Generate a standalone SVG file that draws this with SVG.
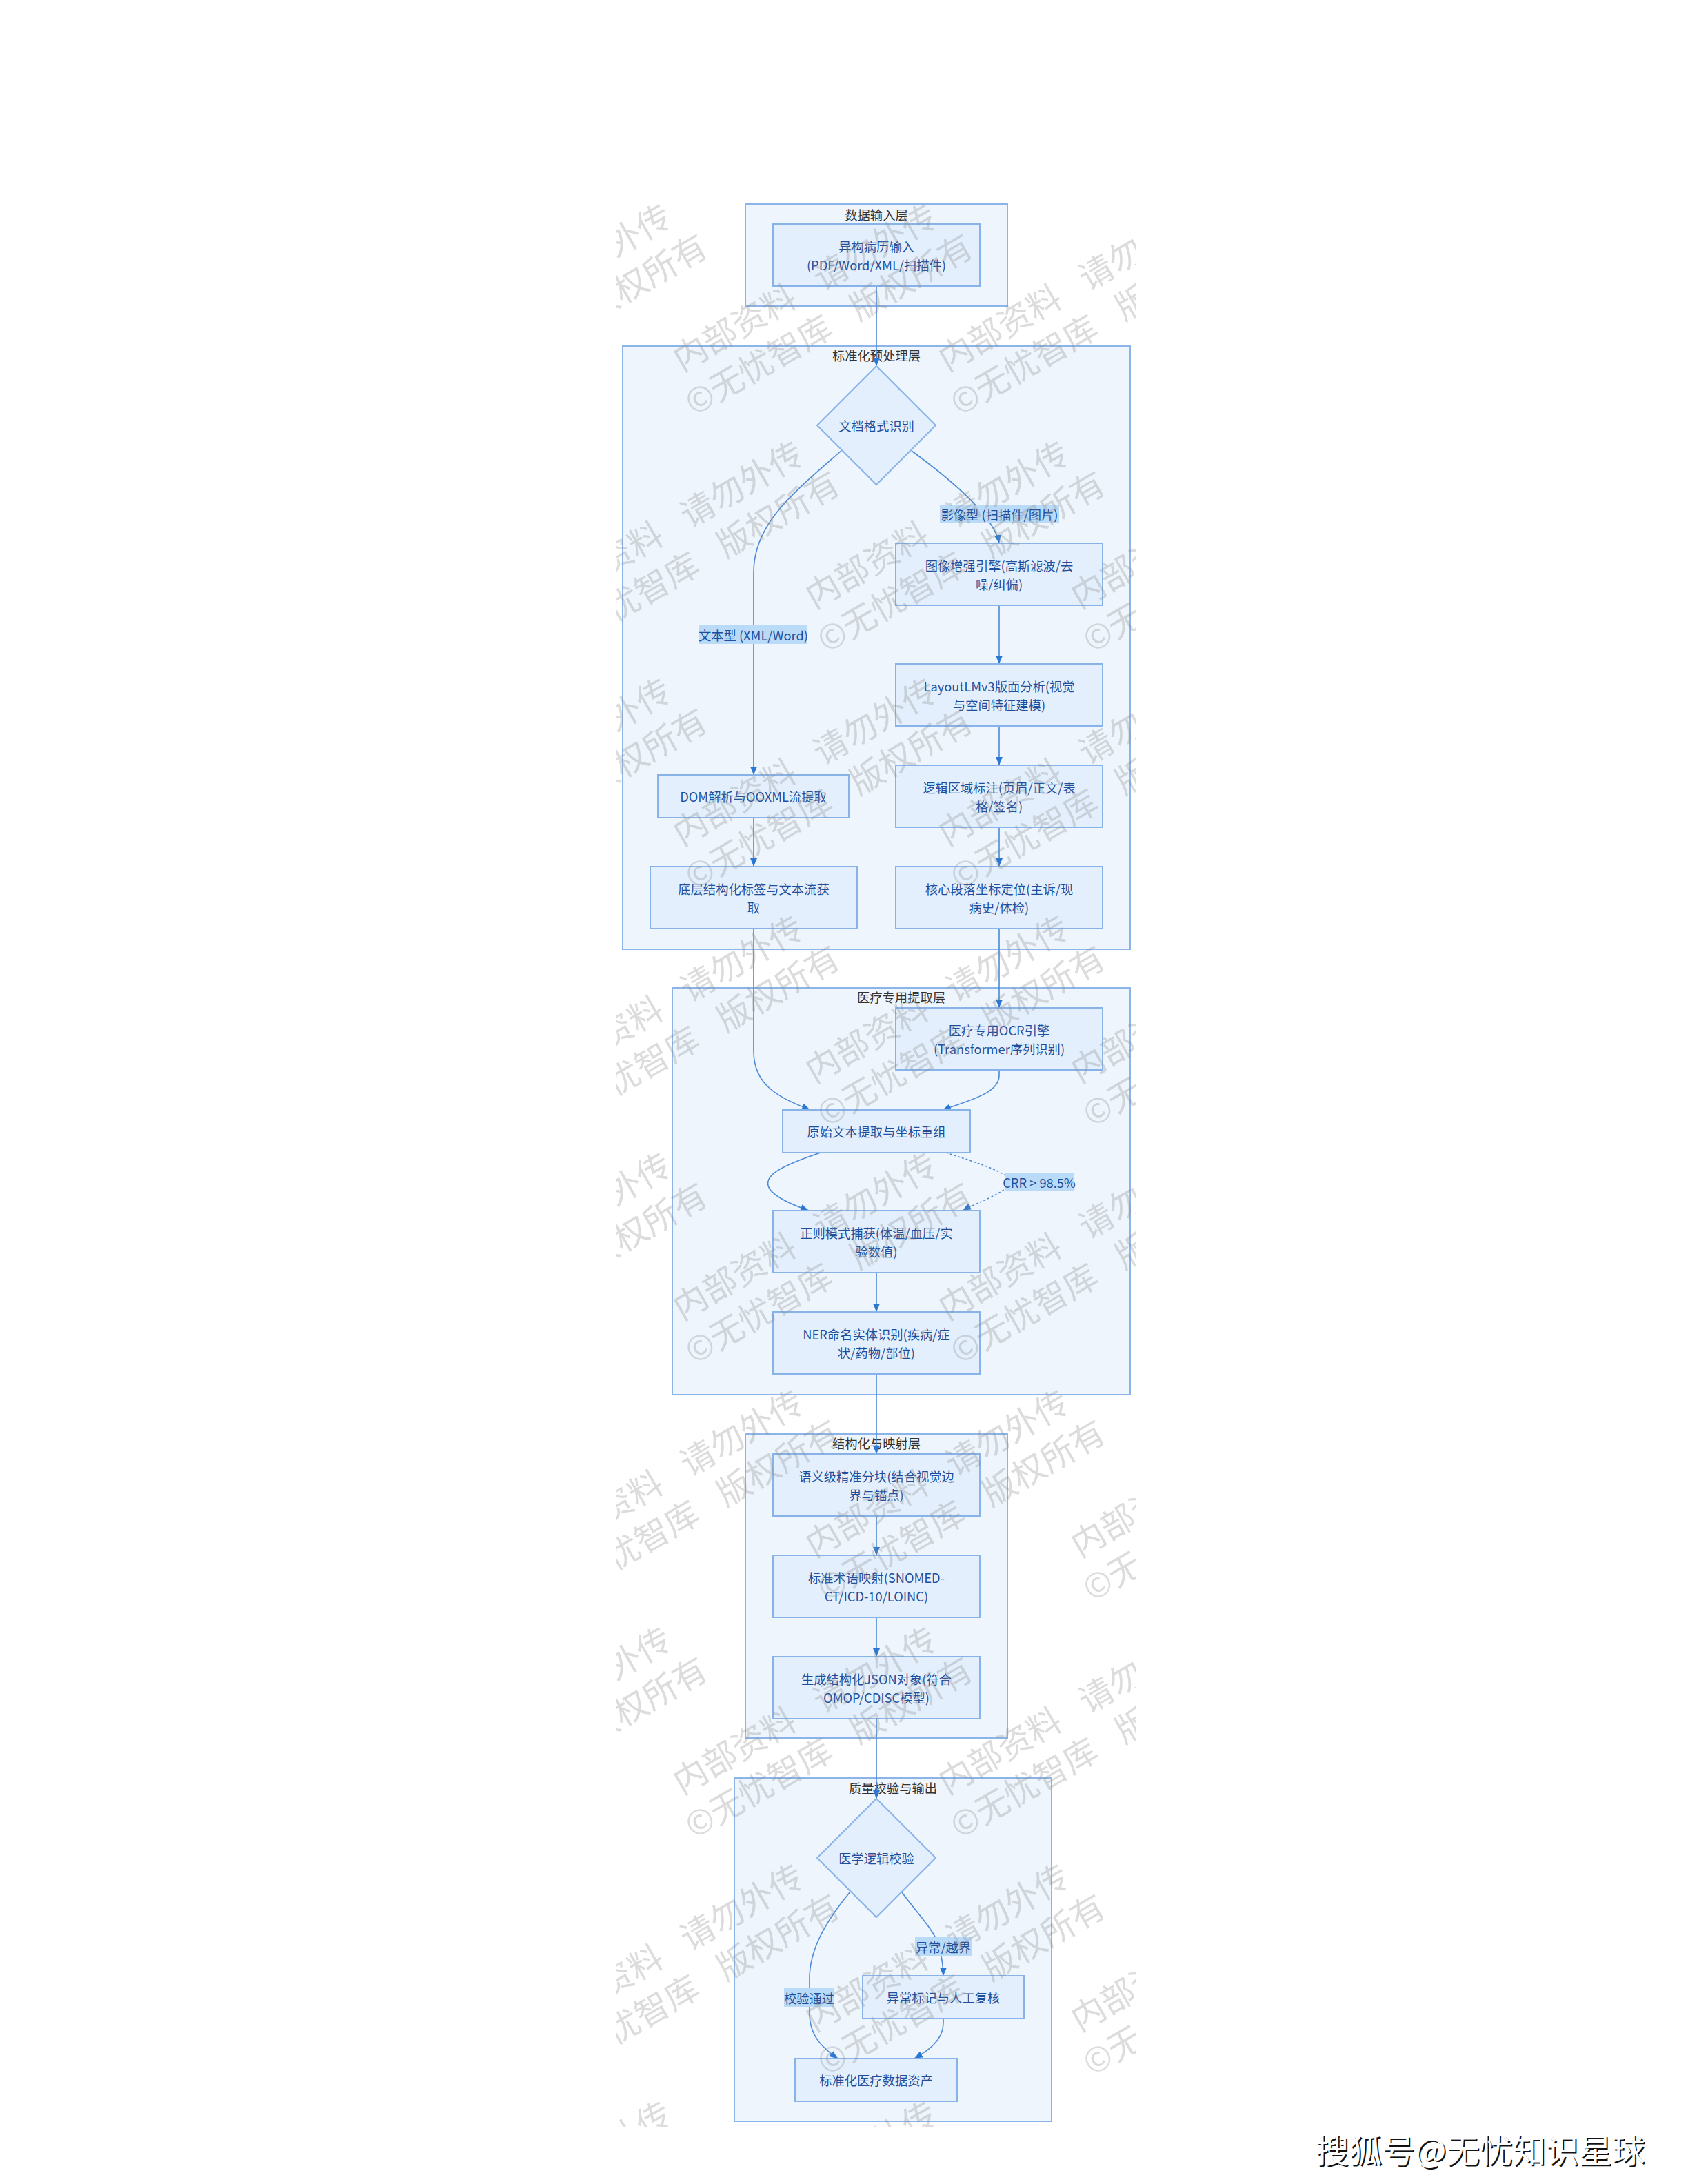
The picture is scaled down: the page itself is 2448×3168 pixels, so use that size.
<svg xmlns="http://www.w3.org/2000/svg" xmlns:xlink="http://www.w3.org/1999/xlink" width="2448" height="3168" viewBox="0 0 2448 3168">
<style>
text{font-family:"Noto Sans CJK SC","Noto Sans",sans-serif;dominant-baseline:central;}
.cluster{fill:#eef5fd;stroke:#8bb4e8;stroke-width:2;}
.ctitle{font-size:18.3px;fill:#333;text-anchor:middle;}
.node{fill:#e3effc;stroke:#88b3e9;stroke-width:2;}
.nt{font-size:18.3px;fill:#1f4f9c;text-anchor:middle;}
.edge{fill:none;stroke:#4a8ad6;stroke-width:1.6;}
.dotted{stroke-dasharray:3 3;}
.lbg{fill:#b9dbf8;}
.lt{font-size:18.3px;fill:#1f4f9c;text-anchor:middle;}
.wmt{font-size:49px;fill:#8a8a8a;fill-opacity:0.3;word-spacing:28px;}
.sohu{font-size:48px;}
</style>
<defs>
<marker id="arr" viewBox="0 0 12 10" refX="12" refY="5" markerWidth="12" markerHeight="10" markerUnits="userSpaceOnUse" orient="auto">
<path d="M0,0 L12,5 L0,10 z" fill="#2b78d4"/>
</marker>
<clipPath id="wmclip"><rect x="893" y="284" width="755" height="2802"/></clipPath>
<g id="wm" transform="rotate(-30)">
<text class="wmt" x="-25" y="0">内部资料 请勿外传</text>
<text class="wmt" x="-42" y="64">©无忧智库 版权所有</text>
</g>
</defs>
<rect x="0" y="0" width="2448" height="3168" fill="#ffffff"/>

<g id="clusters">
<g id="cluster-input"><rect class="cluster" x="1081" y="296" width="380" height="148"/><text class="ctitle" x="1271" y="311">数据输入层</text></g>
<g id="cluster-preproc"><rect class="cluster" x="903" y="502" width="736" height="875"/><text class="ctitle" x="1271" y="515">标准化预处理层</text></g>
<g id="cluster-extract"><rect class="cluster" x="975" y="1433" width="664" height="590"/><text class="ctitle" x="1307" y="1446">医疗专用提取层</text></g>
<g id="cluster-struct"><rect class="cluster" x="1081" y="2080" width="380" height="441"/><text class="ctitle" x="1271" y="2093">结构化与映射层</text></g>
<g id="cluster-qc"><rect class="cluster" x="1065" y="2579" width="460" height="498"/><text class="ctitle" x="1295" y="2593">质量校验与输出</text></g>
</g>

<g id="connectors">
<path class="edge" d="M1271,415 L1271,531" marker-end="url(#arr)"/>
<path class="edge" d="M1221,653 C1150,715 1093,760 1093,830 L1093,1124" marker-end="url(#arr)"/>
<path class="edge" d="M1322,654 Q1440,740 1449,788" marker-end="url(#arr)"/>
<path class="edge" d="M1449,878 L1449,963" marker-end="url(#arr)"/>
<path class="edge" d="M1449,1053 L1449,1110" marker-end="url(#arr)"/>
<path class="edge" d="M1449,1200 L1449,1257" marker-end="url(#arr)"/>
<path class="edge" d="M1093,1186 L1093,1257" marker-end="url(#arr)"/>
<path class="edge" d="M1449,1347 L1449,1462" marker-end="url(#arr)"/>
<path class="edge" d="M1093,1347 L1093,1525 C1093,1575 1130,1592 1175,1610" marker-end="url(#arr)"/>
<path class="edge" d="M1449,1552 L1449,1560 C1449,1585 1410,1595 1367,1610" marker-end="url(#arr)"/>
<path class="edge" d="M1190,1672 C1130,1692 1110,1705 1114,1720 C1118,1735 1150,1748 1173,1756" marker-end="url(#arr)"/>
<path class="edge dotted" d="M1372,1672 C1410,1685 1450,1695 1470,1714 C1450,1735 1415,1745 1396,1756" marker-end="url(#arr)"/>
<path class="edge" d="M1271,1846 L1271,1903" marker-end="url(#arr)"/>
<path class="edge" d="M1271,1993 L1271,2109" marker-end="url(#arr)"/>
<path class="edge" d="M1271,2199 L1271,2256" marker-end="url(#arr)"/>
<path class="edge" d="M1271,2346 L1271,2403" marker-end="url(#arr)"/>
<path class="edge" d="M1271,2493 L1271,2609" marker-end="url(#arr)"/>
<path class="edge" d="M1308,2745 C1330,2775 1355,2800 1362,2823 C1366,2840 1368,2850 1368,2866" marker-end="url(#arr)"/>
<path class="edge" d="M1233,2744 C1195,2790 1174,2830 1174,2870 L1174,2920 C1174,2955 1195,2972 1215,2986" marker-end="url(#arr)"/>
<path class="edge" d="M1368,2928 L1368,2935 C1368,2960 1345,2975 1326,2986" marker-end="url(#arr)"/>
<g id="edge-labels">
<rect class="lbg" x="1363" y="732" width="173" height="27"/><text class="lt" x="1449.5" y="745.5">影像型 (扫描件/图片)</text>
<rect class="lbg" x="1014" y="907" width="157" height="27"/><text class="lt" x="1092.5" y="920.5">文本型 (XML/Word)</text>
<rect class="lbg" x="1457" y="1701" width="100" height="27"/><text class="lt" x="1507" y="1714.5">CRR &gt; 98.5%</text>
<rect class="lbg" x="1327" y="2810" width="82" height="27"/><text class="lt" x="1368" y="2823.5">异常/越界</text>
<rect class="lbg" x="1137" y="2884" width="73" height="27"/><text class="lt" x="1173.5" y="2897.5">校验通过</text>
</g>
</g>

<g id="nodes">
<g id="n-input"><rect class="node" x="1121" y="325" width="300" height="90"/><text class="nt" x="1271" y="356.5">异构病历输入</text><text class="nt" x="1271" y="384">(PDF/Word/XML/扫描件)</text></g>
<g id="n-format"><path class="node" d="M1271,531 L1357,617 L1271,703 L1185,617 Z"/><text class="nt" x="1271" y="617">文档格式识别</text></g>
<g id="n-enhance"><rect class="node" x="1299" y="788" width="300" height="90"/><text class="nt" x="1449" y="819.5">图像增强引擎(高斯滤波/去</text><text class="nt" x="1449" y="847">噪/纠偏)</text></g>
<g id="n-layout"><rect class="node" x="1299" y="963" width="300" height="90"/><text class="nt" x="1449" y="994.5">LayoutLMv3版面分析(视觉</text><text class="nt" x="1449" y="1022">与空间特征建模)</text></g>
<g id="n-region"><rect class="node" x="1299" y="1110" width="300" height="90"/><text class="nt" x="1449" y="1141.5">逻辑区域标注(页眉/正文/表</text><text class="nt" x="1449" y="1169">格/签名)</text></g>
<g id="n-core"><rect class="node" x="1299" y="1257" width="300" height="90"/><text class="nt" x="1449" y="1288.5">核心段落坐标定位(主诉/现</text><text class="nt" x="1449" y="1316">病史/体检)</text></g>
<g id="n-dom"><rect class="node" x="954" y="1124" width="277" height="62"/><text class="nt" x="1092.5" y="1155">DOM解析与OOXML流提取</text></g>
<g id="n-tags"><rect class="node" x="943" y="1257" width="300" height="90"/><text class="nt" x="1093" y="1288.5">底层结构化标签与文本流获</text><text class="nt" x="1093" y="1316">取</text></g>
<g id="n-ocr"><rect class="node" x="1299" y="1462" width="300" height="90"/><text class="nt" x="1449" y="1493.5">医疗专用OCR引擎</text><text class="nt" x="1449" y="1521">(Transformer序列识别)</text></g>
<g id="n-raw"><rect class="node" x="1135" y="1610" width="272" height="62"/><text class="nt" x="1271" y="1641">原始文本提取与坐标重组</text></g>
<g id="n-regex"><rect class="node" x="1121" y="1756" width="300" height="90"/><text class="nt" x="1271" y="1787.5">正则模式捕获(体温/血压/实</text><text class="nt" x="1271" y="1815">验数值)</text></g>
<g id="n-ner"><rect class="node" x="1121" y="1903" width="300" height="90"/><text class="nt" x="1271" y="1934.5">NER命名实体识别(疾病/症</text><text class="nt" x="1271" y="1962">状/药物/部位)</text></g>
<g id="n-chunk"><rect class="node" x="1121" y="2109" width="300" height="90"/><text class="nt" x="1271" y="2140.5">语义级精准分块(结合视觉边</text><text class="nt" x="1271" y="2168">界与锚点)</text></g>
<g id="n-term"><rect class="node" x="1121" y="2256" width="300" height="90"/><text class="nt" x="1271" y="2287.5">标准术语映射(SNOMED-</text><text class="nt" x="1271" y="2315">CT/ICD-10/LOINC)</text></g>
<g id="n-json"><rect class="node" x="1121" y="2403" width="300" height="90"/><text class="nt" x="1271" y="2434.5">生成结构化JSON对象(符合</text><text class="nt" x="1271" y="2462">OMOP/CDISC模型)</text></g>
<g id="n-check"><path class="node" d="M1271,2609 L1357,2695 L1271,2781 L1185,2695 Z"/><text class="nt" x="1271" y="2695">医学逻辑校验</text></g>
<g id="n-review"><rect class="node" x="1251" y="2866" width="234" height="62"/><text class="nt" x="1368" y="2897">异常标记与人工复核</text></g>
<g id="n-asset"><rect class="node" x="1153" y="2986" width="235" height="62"/><text class="nt" x="1270.5" y="3017">标准化医疗数据资产</text></g>
</g>

<g id="watermark" clip-path="url(#wmclip)">
<use xlink:href="#wm" x="615" y="509"/><use xlink:href="#wm" x="1000" y="509"/><use xlink:href="#wm" x="1385" y="509"/>
<use xlink:href="#wm" x="807" y="853"/><use xlink:href="#wm" x="1192" y="853"/><use xlink:href="#wm" x="1577" y="853"/>
<use xlink:href="#wm" x="615" y="1197"/><use xlink:href="#wm" x="1000" y="1197"/><use xlink:href="#wm" x="1385" y="1197"/>
<use xlink:href="#wm" x="807" y="1541"/><use xlink:href="#wm" x="1192" y="1541"/><use xlink:href="#wm" x="1577" y="1541"/>
<use xlink:href="#wm" x="615" y="1885"/><use xlink:href="#wm" x="1000" y="1885"/><use xlink:href="#wm" x="1385" y="1885"/>
<use xlink:href="#wm" x="807" y="2229"/><use xlink:href="#wm" x="1192" y="2229"/><use xlink:href="#wm" x="1577" y="2229"/>
<use xlink:href="#wm" x="615" y="2573"/><use xlink:href="#wm" x="1000" y="2573"/><use xlink:href="#wm" x="1385" y="2573"/>
<use xlink:href="#wm" x="807" y="2917"/><use xlink:href="#wm" x="1192" y="2917"/><use xlink:href="#wm" x="1577" y="2917"/>
<use xlink:href="#wm" x="615" y="3261"/><use xlink:href="#wm" x="1000" y="3261"/><use xlink:href="#wm" x="1385" y="3261"/>
</g>

<g id="sohu-mark">
<text class="sohu" x="1910" y="3118" fill="#111">搜狐号@无忧知识星球</text>
<text class="sohu" x="1908" y="3116" fill="#ffffff">搜狐号@无忧知识星球</text>
</g>
</svg>
